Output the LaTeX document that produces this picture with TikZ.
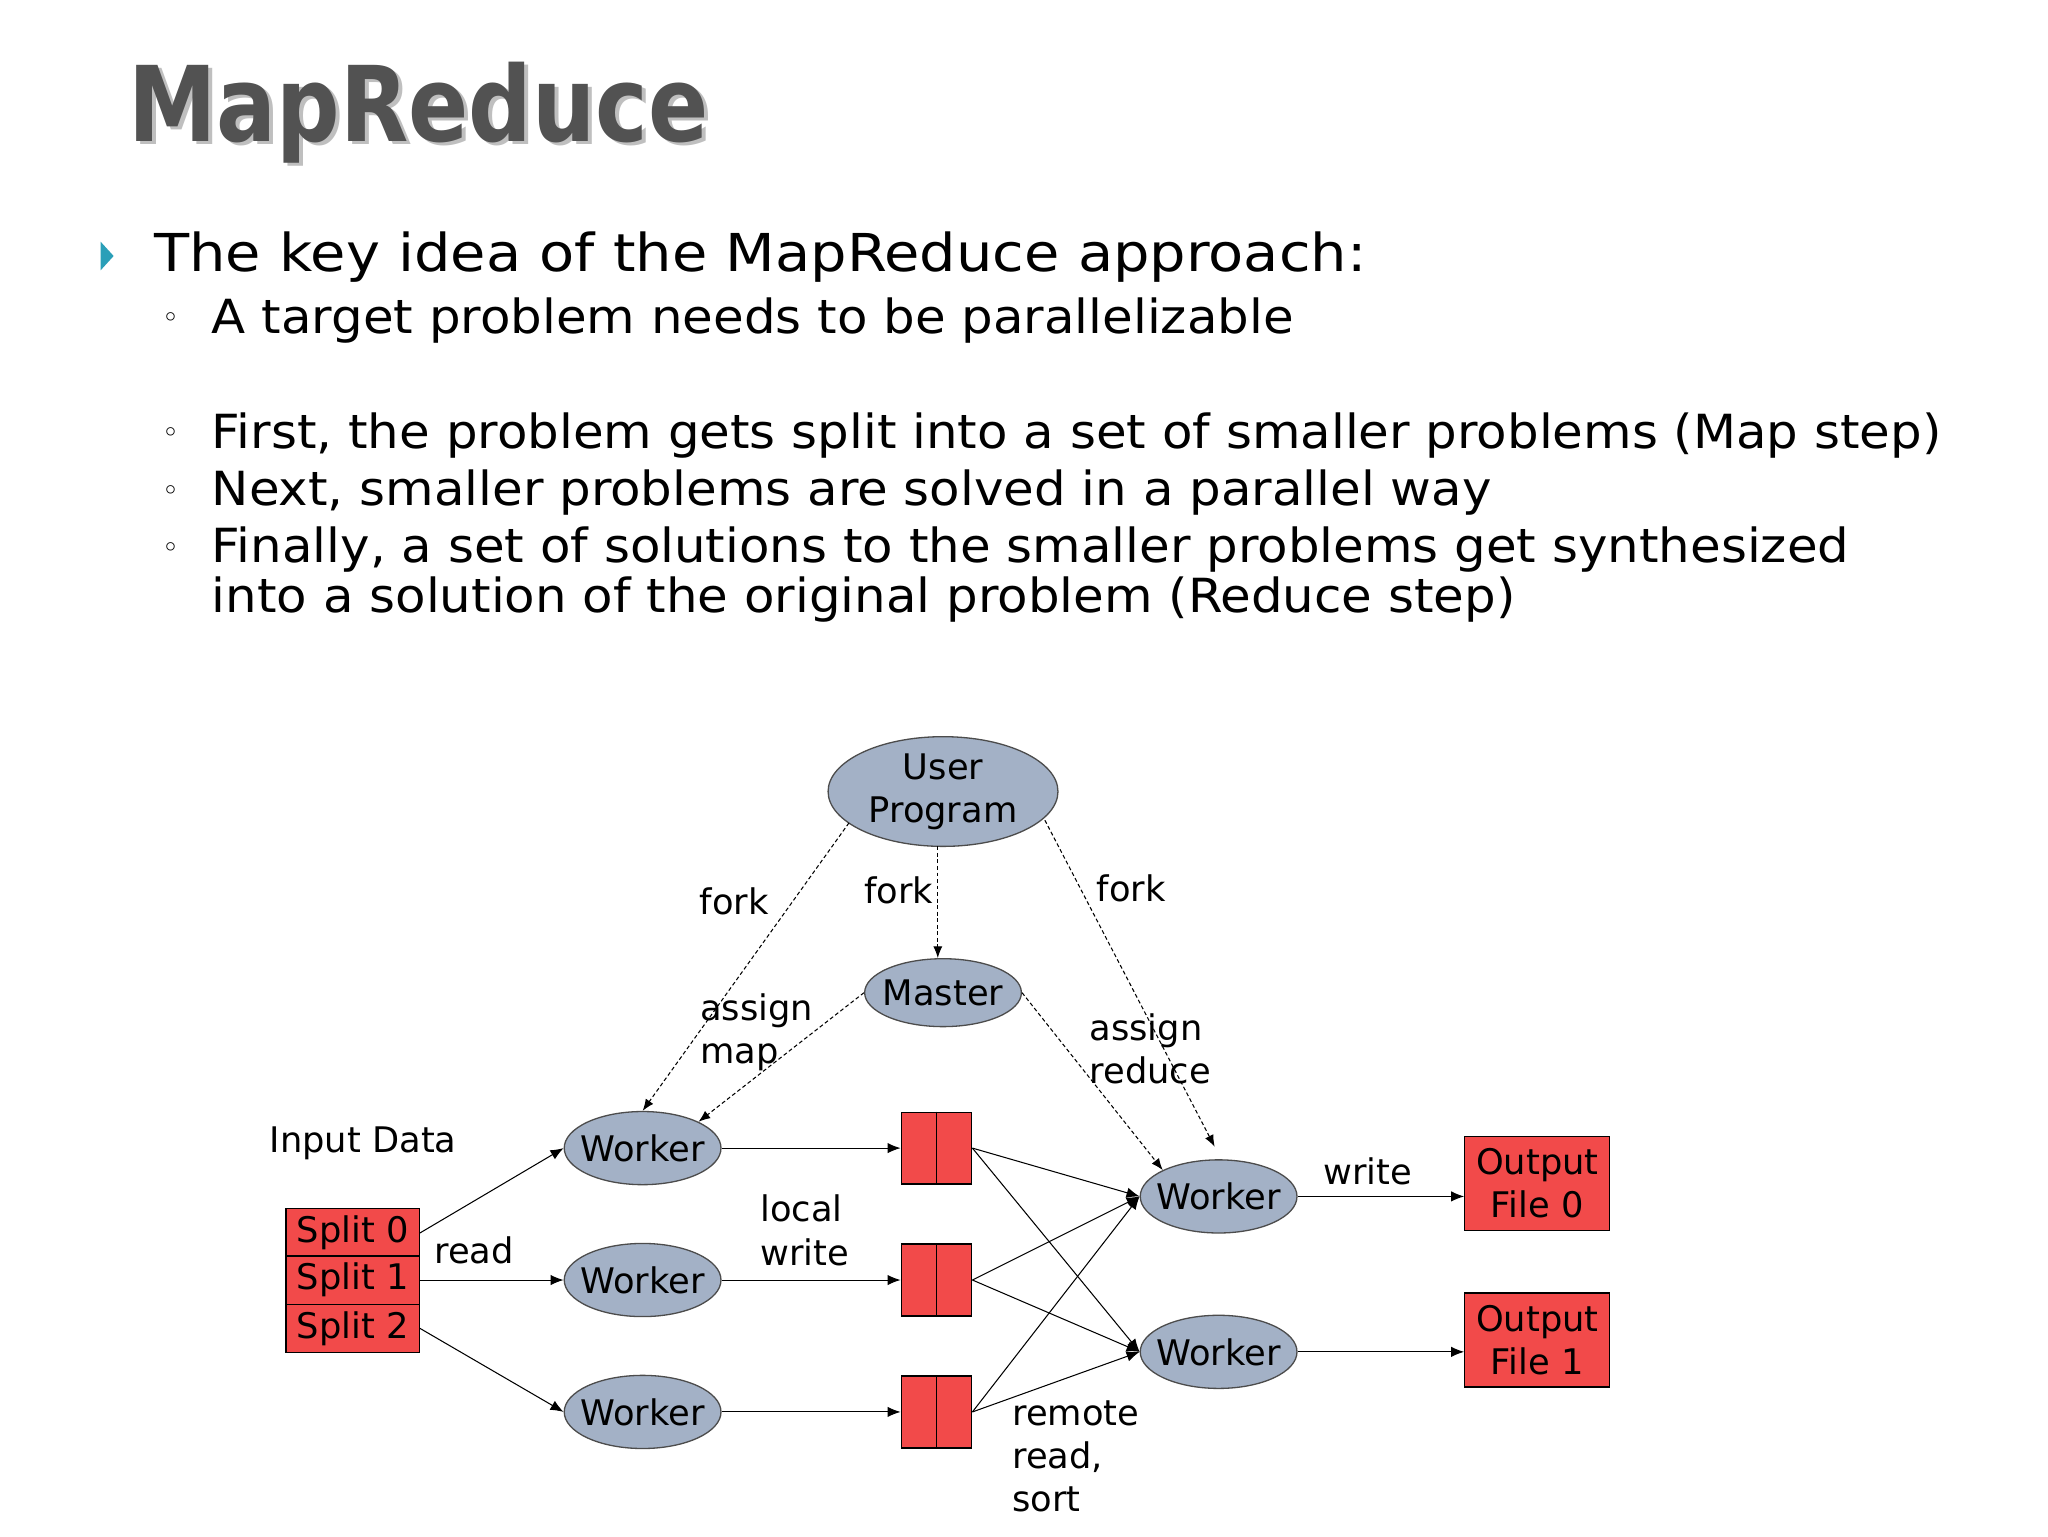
\documentclass[tikz,border=0pt]{standalone}
\usepackage{fontspec}
\setmainfont{DejaVu Sans}
\usetikzlibrary{arrows.meta,shapes.geometric}
\definecolor{ell}{HTML}{A3B1C6}
\definecolor{red1}{HTML}{F24A4A}
\definecolor{teal1}{HTML}{2A9FB8}
\newcommand{\fs}[1]{\fontsize{#1}{#1}\selectfont}
\newcommand{\fsl}[1]{\fontsize{#1}{33}\selectfont}
\newcommand{\sx}[1]{\scalebox{1.1}[1]{#1}}
\newcommand{\sxs}[1]{\scalebox{1.06}[1]{#1}}
\tikzset{
 ell/.style={ellipse,draw=black!70,line width=1pt,fill=ell,minimum width=120pt,minimum height=56pt,inner xsep=-12pt,inner ysep=0pt,font=\fs{27}},
 box/.style={draw=black,line width=1pt,fill=red1,inner sep=0pt},
 lbl/.style={font=\fsl{27},inner sep=0pt,align=left},
 da/.style={densely dashed,line width=0.8pt,-{Latex[length=9pt,width=7pt]}},
 sa/.style={line width=0.8pt,-{Latex[length=10pt,width=8pt]}},
 bul/.style={anchor=base west,inner sep=0pt,font=\fs{40}},
 sbul/.style={anchor=base west,inner sep=0pt,font=\fs{36}}
}
\begin{document}
\begin{tikzpicture}[x=1pt,y=-1pt]
\useasboundingbox[fill=white] (0,0) rectangle (1568,1176);
% title
\node[anchor=base west,inner sep=0pt,font=\fs{80}\bfseries,text=black!25] (tsh) at (101,111) {\scalebox{0.85}[1]{MapReduce}};
\node[anchor=base west,inner sep=0pt,font=\fs{80}\bfseries,text=black!68] (title) at (98,108) {\scalebox{0.85}[1]{MapReduce}};
% bullets
\fill[teal1] (77,185) -- (87,196) -- (77,207) -- cycle;
\node[bul] (b1) at (118,208) {\sx{The key idea of the MapReduce approach:}};
\node[sbul,font=\fs{22}] (c1) at (124,251) {◦};
\node[sbul] (s1) at (162,255) {\sxs{A target problem needs to be parallelizable}};
\node[sbul,font=\fs{22}] (c2) at (124,339) {◦};
\node[sbul] (s2) at (162,343) {\sxs{First, the problem gets split into a set of smaller problems (Map step)}};
\node[sbul,font=\fs{22}] (c3) at (124,383) {◦};
\node[sbul] (s3) at (162,387) {\sxs{Next, smaller problems are solved in a parallel way}};
\node[sbul,font=\fs{22}] (c4) at (124,427) {◦};
\node[sbul] (s4) at (162,431) {\sxs{Finally, a set of solutions to the smaller problems get synthesized}};
\node[sbul] (s5) at (162,469) {\sxs{into a solution of the original problem (Reduce step)}};
% diagram nodes
\node[ell,minimum width=176pt,minimum height=84pt,align=center,font=\fsl{27}] (up) at (722,606) {User\\Program};
\node[ell,minimum width=120pt,minimum height=52pt] (ma) at (722,760) {Master};
\node[ell] (w1) at (492,879) {Worker};
\node[ell] (w2) at (492,980) {Worker};
\node[ell] (w3) at (492,1081) {Worker};
\node[ell] (r1) at (933,916) {Worker};
\node[ell] (r2) at (933,1035) {Worker};
% splits
\node[box,minimum width=102pt,minimum height=37pt,font=\fs{27}] (sp0) at (270,944) {Split 0};
\node[box,minimum width=102pt,minimum height=37pt,font=\fs{27}] (sp1) at (270,980) {Split 1};
\node[box,minimum width=102pt,minimum height=37pt,font=\fs{27}] (sp2) at (270,1017) {Split 2};
% buffers
\foreach \n/\y in {b1/879,b2/980,b3/1081}{
 \node[box,minimum width=54pt,minimum height=55pt] (\n) at (717,\y) {};
 \draw[line width=1pt] (\n.north) -- (\n.south);
}
% outputs
\node[box,minimum width=111pt,minimum height=72pt,align=center,font=\fsl{27}] (o0) at (1177,906) {Output\\File 0};
\node[box,minimum width=111pt,minimum height=72pt,align=center,font=\fsl{27}] (o1) at (1177,1026) {Output\\File 1};
% labels
\node[lbl] (lin) at (278,875) {Input Data};
\node[lbl] (lread) at (363,957) {read};
\node[lbl,anchor=west] (llw) at (582,942) {local\\write};
\node[lbl,anchor=north west] (lrr) at (775,1072) {remote\\read,\\sort};
\node[lbl] (lwr) at (1047,897) {write};
\node[lbl] (f1) at (562,690) {fork};
\node[lbl] (f2) at (688,682) {fork};
\node[lbl] (f3) at (866,680) {fork};
\node[lbl,anchor=west] (am) at (536,790) {assign\\map};
\node[lbl,anchor=west] (ar) at (834,803) {assign\\reduce};
% dashed
\coordinate (d1) at (650,630);
\coordinate (d2) at (718,648);
\coordinate (d3) at (800,628);
\draw[da] (d1) -- (w1.north);
\draw[da] (d2) -- (ma.north -| d2);
\draw[da] (d3) -- (930,878);
\draw[da] (ma.west) -- (w1.north east);
\draw[da] (ma.east) -- (r1.north west);
% solid
\draw[sa] (sp0.east) -- (w1.west);
\draw[sa] (sp1.east) -- (w2.west);
\draw[sa] (sp2.east) -- (w3.west);
\draw[sa] (w1.east) -- (b1.west);
\draw[sa] (w2.east) -- (b2.west);
\draw[sa] (w3.east) -- (b3.west);
\foreach \b in {b1,b2,b3}{
 \draw[sa] (\b.east) -- (r1.west);
 \draw[sa] (\b.east) -- (r2.west);
}
\draw[sa] (r1.east) -- (o0.west |- r1.east);
\draw[sa] (r2.east) -- (o1.west |- r2.east);
\end{tikzpicture}
\end{document}
